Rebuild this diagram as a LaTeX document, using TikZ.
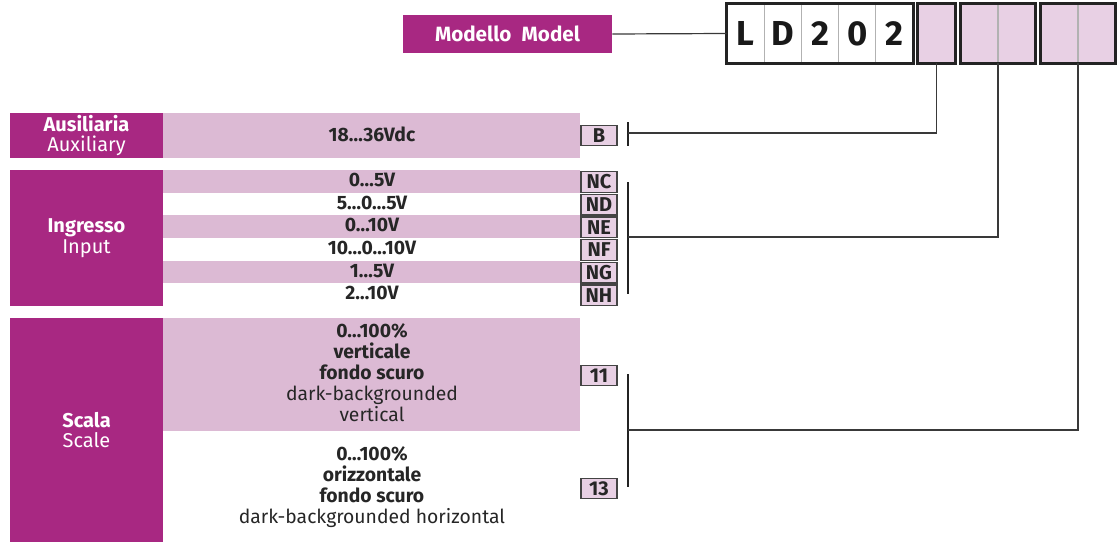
\documentclass[tikz,border=0pt]{standalone}
\usepackage{fontspec}
\setmainfont{Fira Sans}
\usetikzlibrary{positioning, calc}
\definecolor{MagFill} {RGB}{168,40,130}
\definecolor{BandFill}{RGB}{220,186,212}
\definecolor{CodeFill}{RGB}{232,208,228}
\definecolor{WireLine}{RGB}{35,35,35}
\tikzset{
  % white titles on the magenta blocks
  hdrtxt/.style={text=white, align=center, inner sep=0pt, font=\fontsize{15}{15.5}\selectfont},
  % option texts in the bands
  valtxt/.style={text=black!85, align=center, inner sep=0pt, font=\fontsize{14.5}{15.75}\selectfont},
  valbold/.style={valtxt, font=\bfseries\fontsize{14.5}{15.75}\selectfont},
  % order codes
  code/.style={
    rectangle, draw=WireLine!85, fill=CodeFill, line width=0.8pt,
    minimum width=27pt, minimum height=15.5pt, inner sep=0pt,
    font=\bfseries\fontsize{15}{15}\selectfont, text=black!85
  },
  % model code cells
  cell/.style={
    rectangle, draw=gray!60, line width=0.5pt,
    minimum width=27.9pt, minimum height=44.25pt, inner sep=0pt,
    font=\bfseries\fontsize{26}{26}\selectfont, text=black!90
  },
  blank/.style={cell, fill=CodeFill},
  frame/.style={draw=WireLine, line width=2.3pt},
  bus/.style={draw=WireLine, line width=2.2pt},
  wire/.style={draw=WireLine!90, line width=0.9pt}
}

\begin{document}
\begin{tikzpicture}[x=0.75pt, y=-0.75pt]
  \useasboundingbox (0,0) rectangle (1120,542);

  %% -- Model code --------------------------------------------------------
  \node[fill=MagFill, minimum width=156.75pt, minimum height=28.5pt,
        hdrtxt, font=\bfseries\fontsize{15.5}{16}\selectfont] (model)
    at (507.5,34) {Modello\enspace Model};

  \foreach \c [count=\i] in {L,D,2,0,2}
    \node[cell] (c\i) at ({727+37.2*(\i-0.5)},33.5) {\c};
  \draw[frame] (c1.north west) rectangle (c5.south east);

  \node[blank] (s1)  at (936.5,33.5) {};
  \node[blank] (d1a) at (979,33.5)   {};
  \node[blank, right=0pt of d1a] (d1b) {};
  \node[blank] (d2a) at (1059,33.5)  {};
  \node[blank, right=0pt of d2a] (d2b) {};
  \draw[frame] (s1.north west) rectangle (s1.south east);
  \draw[frame] (d1a.north west) rectangle (d1b.south east);
  \draw[frame] (d2a.north west) rectangle (d2b.south east);

  \draw[wire] (model.east) -- (c1.west);

  %% -- Auxiliary ---------------------------------------------------------
  \fill[MagFill]  (10,113) rectangle (163,158);
  \fill[BandFill] (163,113) rectangle (580,158);
  \node[hdrtxt] (auxh) at (86.5,135.5) {\textbf{Ausiliaria}\\Auxiliary};
  \node[valbold] (auxv) at (372,134) {18…36Vdc};
  \node[code] (cB) at (599,135.5) {B};
  \coordinate (tB) at (628,133);
  \draw[bus] (tB) ++(0,-11) -- ++(0,24);
  \draw[wire] (tB) -| (s1.south);

  %% -- Input -------------------------------------------------------------
  \fill[MagFill] (10,170) rectangle (163,306);
  \foreach \v/\c [count=\i] in {0…5V/NC, 5…0…5V/ND, 0…10V/NE,
                                10…0…10V/NF, 1…5V/NG, 2…10V/NH} {
    \ifodd\i
      \fill[BandFill] (163,{170+22.67*(\i-1)}) rectangle (580,{170+22.67*\i});
    \fi
    \node[valbold] (in\i) at (372,{180+22.67*(\i-1)}) {\v};
    \node[code] (c\c) at (599,{182+22.67*(\i-1)}) {\c};
  }
  \node[hdrtxt] (inh) at (86.5,238) {\textbf{Ingresso}\\Input};
  \coordinate (tIn) at (628,237);
  \draw[bus] (tIn) ++(0,-55) -- ++(0,112);
  \draw[wire] (tIn) -| (d1a.south east);

  %% -- Scale -------------------------------------------------------------
  \fill[MagFill]  (10,318) rectangle (163,542);
  \fill[BandFill] (163,318) rectangle (580,431);
  \node[hdrtxt] (sch) at (86.5,430) {\textbf{Scala}\\Scale};
  \node[valtxt] (scv) at (372,373)
    {\textbf{0…100\%}\\\textbf{verticale}\\\textbf{fondo scuro}\\dark-backgrounded\\vertical};
  \node[valtxt] (sco) at (372,487)
    {\textbf{0…100\%}\\\textbf{orizzontale}\\\textbf{fondo scuro}\\dark-backgrounded horizontal};
  \node[code] (c11) at (599,375.5) {11};
  \node[code] (c13) at (599,488.5) {13};
  \coordinate (tSc) at (628,430);
  \draw[bus] (tSc) ++(0,-56) -- ++(0,113);
  \draw[wire] (tSc) -| (d2a.south east);

\end{tikzpicture}
\end{document}
